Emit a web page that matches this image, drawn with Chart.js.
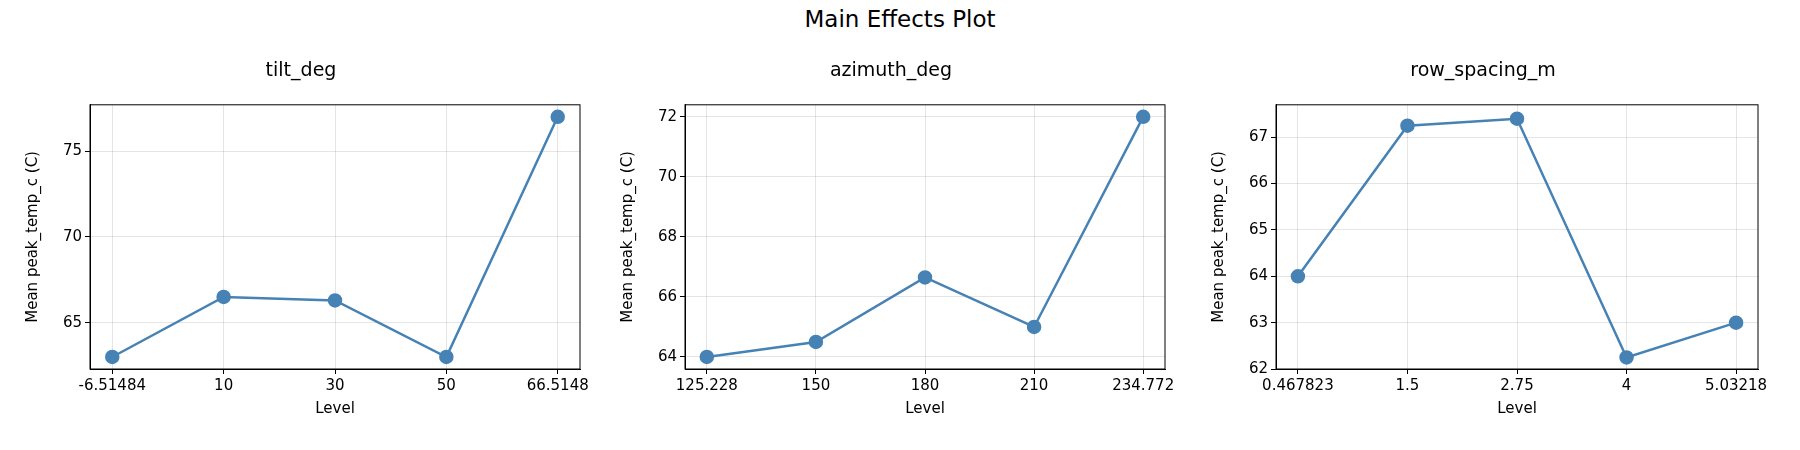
<!DOCTYPE html>
<html>
<head>
<meta charset="utf-8">
<script src="https://cdn.jsdelivr.net/npm/chart.js@4/dist/chart.umd.min.js"></script>
<style>
  body { margin: 0; background: #fff; width: 1800px; height: 450px; position: relative; font-family: "DejaVu Sans", sans-serif; }
  #title { position: absolute; top: 6px; width: 1800px; text-align: center; font-size: 23px; color: #000; }
  .panel { position: absolute; top: 52px; height: 398px; }
</style>
</head>
<body>
<div id="title">Main Effects Plot</div>
<div class="panel" style="left:22px;width:578px"><canvas id="c0"></canvas></div>
<div class="panel" style="left:617px;width:568px"><canvas id="c1"></canvas></div>
<div class="panel" style="left:1208px;width:570px"><canvas id="c2"></canvas></div>
<script>
// Niveaux et moyennes
const tiltLevels = ['-6.51484', '10', '30', '50', '66.5148'];
const tiltMeans = [63.0, 66.5, 66.3, 63.0, 77.0];
const azimuthLevels = ['125.228', '150', '180', '210', '234.772'];
const azimuthMeans = [64.0, 64.5, 66.65, 65.0, 72.0];
const spacingLevels = ['0.467823', '1.5', '2.75', '4', '5.03218'];
const spacingMeans = [64.0, 67.25, 67.4, 62.25, 63.0];

const panels = [
  { id: 'c0', title: 'tilt_deg', levels: tiltLevels, means: tiltMeans, min: 62.3, max: 77.7, step: 5 },
  { id: 'c1', title: 'azimuth_deg', levels: azimuthLevels, means: azimuthMeans, min: 63.6, max: 72.4, step: 2 },
  { id: 'c2', title: 'row_spacing_m', levels: spacingLevels, means: spacingMeans, min: 62.0, max: 67.7, step: 1 }
];

const font = { family: 'DejaVu Sans', size: 15 };

panels.forEach((p, i) => {
  const el = document.getElementById(p.id);
  new Chart(el.getContext('2d'), {
    type: 'line',
    data: {
      datasets: [{
        data: p.means.map((v, k) => ({ x: k, y: v })),
        borderColor: '#4682b4',
        backgroundColor: '#4682b4',
        borderWidth: 2.5,
        pointRadius: 6,
        pointHoverRadius: 6,
        tension: 0
      }]
    },
    options: {
      responsive: true,
      maintainAspectRatio: false,
      animation: false,
      layout: { padding: { left: 0, right: 20, top: 0, bottom: 30 } },
      plugins: {
        legend: { display: false },
        tooltip: { enabled: false },
        title: { display: true, text: p.title, color: '#000', font: { family: 'DejaVu Sans', size: 19, weight: 'normal' }, padding: { top: 8, bottom: 22 } }
      },
      scales: {
        x: {
          type: 'linear', min: -0.2, max: 4.2,
          afterBuildTicks: ax => { ax.ticks = [0, 1, 2, 3, 4].map(v => ({ value: v })); },
          ticks: { callback: v => p.levels[v], color: '#000', font: font, maxRotation: 0, autoSkip: false },
          grid: { color: 'rgba(0,0,0,0.1)', drawTicks: true, tickColor: '#000', tickLength: 5 },
          border: { color: '#000', width: 1 },
          title: { display: true, text: 'Level', color: '#000', font: font, padding: 2 }
        },
        y: {
          min: p.min, max: p.max,
          afterBuildTicks: ax => {
            const t = [];
            for (let v = Math.ceil(p.min / p.step) * p.step; v <= p.max; v += p.step) t.push({ value: v });
            ax.ticks = t;
          },
          afterFit: ax => { ax.width = 68; },
          ticks: { color: '#000', font: font },
          grid: { color: 'rgba(0,0,0,0.1)', tickColor: '#000', tickLength: 5 },
          border: { color: '#000', width: 1 },
          title: { display: true, text: 'Mean peak_temp_c (C)', color: '#000', font: font, padding: 2 }
        }
      }
    },
    plugins: [{
      id: 'frame',
      afterDraw(chart) {
        const a = chart.chartArea, c = chart.ctx;
        c.save(); c.strokeStyle = '#000'; c.lineWidth = 1;
        c.strokeRect(a.left, a.top, a.right - a.left, a.bottom - a.top);
        c.restore();
      }
    }]
  });
});
</script>
</body>
</html>
